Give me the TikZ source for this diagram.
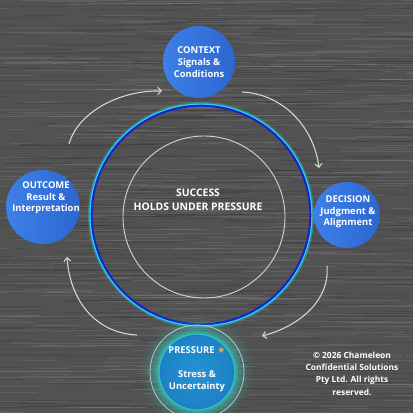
\documentclass[tikz,border=0pt]{standalone}
\usepackage{fontspec}
\setmainfont{Open Sans}
\newfontfamily\symf{DejaVu Sans}
\definecolor{bgray}{HTML}{525252}
\definecolor{bubA}{HTML}{3C80E8}
\definecolor{bubB}{HTML}{2D66CF}
\definecolor{ringcyan}{HTML}{22DDF2}
\definecolor{ringblue}{HTML}{1424CC}
\definecolor{arrgray}{HTML}{D4D4D4}
\definecolor{glow}{HTML}{34D2C6}
\definecolor{presA}{HTML}{2394D4}
\definecolor{presB}{HTML}{1C80C4}
\definecolor{stargold}{HTML}{F2A93B}
\tikzset{
  bubble/.style={circle, inner sep=0pt, left color=bubA, right color=bubB, draw=none},
  btext/.style={text=white, font=\bfseries\fontsize{9.4}{11.7}\selectfont, align=center, inner sep=0pt},
  cyc/.style={draw=arrgray, line width=1.1pt, -{Straight Barb[length=3.5pt,width=7pt]}},
}
\usetikzlibrary{arrows.meta}
\begin{document}
\begin{tikzpicture}[x=1pt,y=-1pt]
\fill[bgray] (0,0) rectangle (413,413);
\useasboundingbox (0,0) rectangle (413,413);
\begin{scope}
\clip (0,0) rectangle (413,413);
\pgfmathsetseed{7}
\foreach \i in {1,...,500}{
  \pgfmathsetmacro\yy{rnd*413}
  \pgfmathsetmacro\xx{rnd*460-40}
  \pgfmathsetmacro\ll{15+rnd*110}
  \draw[line width=0.7pt, white, opacity=0.08] (\xx,\yy) -- ++(\ll,0);
}
\foreach \i in {1,...,500}{
  \pgfmathsetmacro\yy{rnd*413}
  \pgfmathsetmacro\xx{rnd*460-40}
  \pgfmathsetmacro\ll{15+rnd*110}
  \draw[line width=0.7pt, black, opacity=0.1] (\xx,\yy) -- ++(\ll,0);
}
\end{scope}

% central rings
\coordinate (cen) at (201,215);
\draw[ringcyan, opacity=0.35, line width=3pt] (cen) circle[radius=111.5];
\draw[ringcyan, line width=1.4pt] (cen) circle[radius=110.8];
\draw[ringblue, line width=2pt] (cen) circle[radius=109.3];
\draw[arrgray, line width=0.9pt] (204,217) circle[radius=81];
\node[btext, font=\bfseries\fontsize{10.4}{13.5}\selectfont] (succ) at (198,200) {SUCCESS\\HOLDS UNDER PRESSURE};

% pressure glow
\foreach \r/\o in {56/0.04,53/0.06,50/0.09,47/0.13,44/0.2,41/0.32}{
  \fill[glow, opacity=\o] (197,372) circle[radius=\r];
}
\node[circle, minimum size=76pt, inner sep=0pt, inner color=presA, outer color=presB] (pres) at (197,372) {};
\draw[glow, line width=1.2pt, opacity=0.8] (pres) circle[radius=38];
\draw[arrgray, line width=0.8pt, opacity=0.85] (pres.center) circle[radius=47];
\node[btext] (prest) at (197,350) {PRESSURE {\symf\color{stargold}\fontsize{9.5}{10}\selectfont ★}};
\node[btext] (press) at (197,381) {Stress \&\\Uncertainty};

% bubbles
\node[bubble, minimum size=72pt] (ctx) at (199,62) {};
\node[btext] (ctxt) at (199,62) {CONTEXT\\Signals \&\\Conditions};
\node[bubble, minimum size=66pt] (dec) at (347,215) {};
\node[btext] (dect) at (348,212) {DECISION\\Judgment \&\\Alignment};
\node[bubble, minimum size=74pt] (out) at (43,207) {};
\node[btext] (outt) at (46,198) {OUTCOME\\Result \&\\Interpretation};

% cycle arrows
\coordinate (a1s) at (69,144);  \coordinate (a1e) at (162,91);
\coordinate (a2s) at (242,92);  \coordinate (a2e) at (319,168);
\coordinate (a3s) at (327,266); \coordinate (a3e) at (262,336);
\coordinate (a4s) at (137,335); \coordinate (a4e) at (67,257);
\draw[cyc] (a1s) .. controls (78,112) and (120,90) .. (a1e);
\draw[cyc] (a2s) .. controls (284,94) and (314,128) .. (a2e);
\draw[cyc] (a3s) .. controls (330,300) and (300,326) .. (a3e);
\draw[cyc] (a4s) .. controls (95,333) and (70,300) .. (a4e);

% copyright
\node[btext, font=\bfseries\fontsize{8.4}{12.4}\selectfont] (copy) at (352,373.5) {© 2026 Chameleon\\Confidential Solutions\\Pty Ltd. All rights\\reserved.};
\end{tikzpicture}
\end{document}
